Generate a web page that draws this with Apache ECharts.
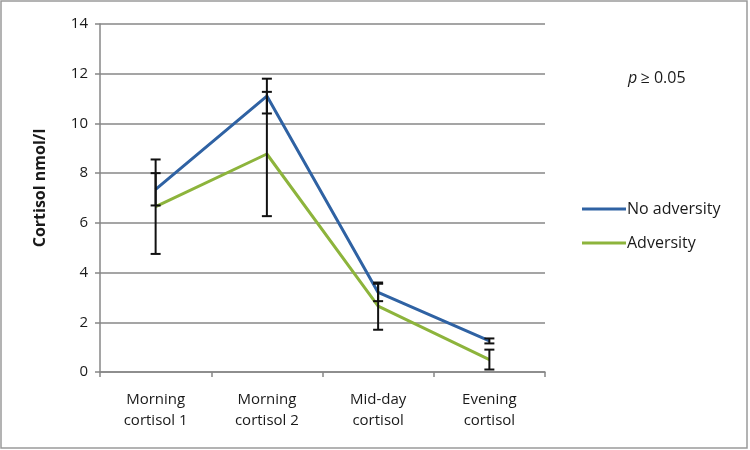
<!DOCTYPE html>
<html><head><meta charset="utf-8">
<script src="https://cdn.jsdelivr.net/npm/echarts@6/dist/echarts.min.js"></script>
<style>html,body{margin:0;padding:0;background:#fff}#c{width:750px;height:450px}</style>
</head><body><div id="c"></div>
<script>
var categories = ['Morning\ncortisol 1', 'Morning\ncortisol 2', 'Mid-day\ncortisol', 'Evening\ncortisol'];
var noAdversity = [7.35, 11.1, 3.2, 1.25];
var noAdversityErr = [0.65, 0.7, 0.35, 0.1];
var adversity = [6.65, 8.77, 2.65, 0.5];
var adversityErr = [1.9, 2.5, 0.95, 0.4];
var yTicks = [0, 2, 4, 6, 8, 10, 12, 14];

var FONT = '"Open Sans", "Liberation Sans", sans-serif';
var blue = '#2f62a3', green = '#8db43c';

function errData(vals, errs) {
  return vals.map(function (v, i) { return [i, v - errs[i], v + errs[i]]; });
}
function errRender(params, api) {
  var x = api.value(0);
  var lo = api.coord([x, api.value(1)]);
  var hi = api.coord([x, api.value(2)]);
  var w = 5;
  var st = { stroke: '#111', lineWidth: 2 };
  return { type: 'group', children: [
    { type: 'line', shape: { x1: hi[0], y1: hi[1], x2: lo[0], y2: lo[1] }, style: st },
    { type: 'line', shape: { x1: hi[0] - w, y1: hi[1], x2: hi[0] + w, y2: hi[1] }, style: st },
    { type: 'line', shape: { x1: lo[0] - w, y1: lo[1], x2: lo[0] + w, y2: lo[1] }, style: st }
  ]};
}

var chart = echarts.init(document.getElementById('c'), null, { renderer: 'canvas' });
chart.setOption({
  animation: false,
  grid: { left: 100, top: 24, width: 445, height: 348 },
  xAxis: {
    type: 'category', data: categories, boundaryGap: true,
    axisLine: { lineStyle: { color: '#878787', width: 1.5 } },
    axisTick: { show: true, length: 5, lineStyle: { color: '#878787', width: 1.5 } },
    axisLabel: { color: '#1a1a1a', fontFamily: FONT, fontSize: 15, lineHeight: 21, margin: 17 }
  },
  yAxis: {
    type: 'value', min: 0, max: 14, interval: 2,
    axisLine: { show: true, lineStyle: { color: '#878787', width: 1.5 } },
    axisTick: { show: true, length: 5, lineStyle: { color: '#878787', width: 1.5 } },
    splitLine: { lineStyle: { color: '#878787', width: 1.5 } },
    axisLabel: { color: '#1a1a1a', fontFamily: FONT, fontSize: 15, margin: 12,
      formatter: function (v) { return yTicks.indexOf(v) >= 0 ? String(v) : ''; } }
  },
  legend: {
    orient: 'vertical', left: 577, top: 196, itemGap: 18,
    itemWidth: 44, itemHeight: 3, icon: 'rect',
    textStyle: { color: '#1a1a1a', fontFamily: FONT, fontSize: 16, padding: [0, 0, 0, -4] },
    data: ['No adversity', 'Adversity']
  },
  graphic: [
    { type: 'rect', shape: { x: 1, y: 1, width: 746, height: 447 }, style: { fill: 'none', stroke: '#9a9a9a', lineWidth: 1.5 } },
    { type: 'text', rotation: Math.PI / 2, x: 40, y: 188,
      style: { text: 'Cortisol nmol/l', fill: '#1a1a1a', font: 'bold 16px ' + FONT, align: 'center', verticalAlign: 'middle' } },
    { type: 'text', left: 628, top: 70,
      style: { rich: { i: { fontStyle: 'italic', fontFamily: FONT, fontSize: 16, fill: '#1a1a1a' }, n: { fontFamily: FONT, fontSize: 16, fill: '#1a1a1a' } },
        text: '{i|p} {n|≥ 0.05}' } }
  ],
  series: [
    { name: 'No adversity', type: 'line', data: noAdversity, symbol: 'none', z: 3,
      lineStyle: { color: blue, width: 3 }, itemStyle: { color: blue } },
    { name: 'Adversity', type: 'line', data: adversity, symbol: 'none', z: 2,
      lineStyle: { color: green, width: 3 }, itemStyle: { color: green } },
    { type: 'custom', renderItem: errRender, data: errData(noAdversity, noAdversityErr), z: 4,
      encode: { x: 0, y: [1, 2] } },
    { type: 'custom', renderItem: errRender, data: errData(adversity, adversityErr), z: 4,
      encode: { x: 0, y: [1, 2] } }
  ]
});
</script></body></html>
